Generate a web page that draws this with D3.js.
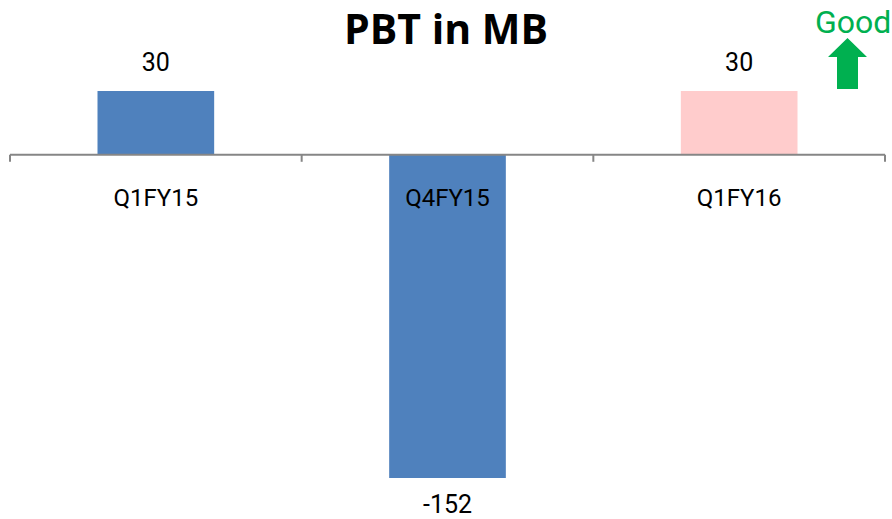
<!DOCTYPE html>
<html>
<head>
<meta charset="utf-8">
<script src="https://cdn.jsdelivr.net/npm/d3@7"></script>
<style>
  body { margin: 0; background: #ffffff; }
  svg { display: block; }
</style>
</head>
<body>
<svg id="chart"></svg>
<script>
// chart data
const categories = ["Q1FY15", "Q4FY15", "Q1FY16"];
const values = [30, -152, 30];
const barColors = ["#4f81bd", "#4f81bd", "#ffcccc"];
const title = "PBT in MB";
const noteText = "Good";

const width = 892;
const height = 519;

const svg = d3.select("#chart")
  .attr("width", width)
  .attr("height", height);

// x: one band per category, axis runs the full width
const x = d3.scaleBand()
  .domain(categories)
  .range([10, 885])
  .paddingInner(0.6)
  .paddingOuter(0.3);

// y: value range mapped so bars fill the plot
const y = d3.scaleLinear()
  .domain([d3.min(values), d3.max(values)])
  .range([478, 91]);

// bars
svg.append("g")
  .selectAll("rect")
  .data(values)
  .join("rect")
  .attr("x", (d, i) => x(categories[i]))
  .attr("width", x.bandwidth())
  .attr("y", d => y(Math.max(0, d)))
  .attr("height", d => Math.abs(y(d) - y(0)))
  .attr("fill", (d, i) => barColors[i]);

// category axis at zero, ticks between categories
const axis = svg.append("g").attr("transform", "translate(0," + y(0) + ")");
axis.append("line")
  .attr("x1", x.range()[0])
  .attr("x2", x.range()[1])
  .attr("stroke", "#868686")
  .attr("stroke-width", 2);
const step = x.step();
const bounds = d3.range(categories.length + 1).map(i => x.range()[0] + i * step);
axis.selectAll("line.tick")
  .data(bounds)
  .join("line")
  .attr("class", "tick")
  .attr("x1", d => d)
  .attr("x2", d => d)
  .attr("y1", 0)
  .attr("y2", 7)
  .attr("stroke", "#868686")
  .attr("stroke-width", 2);

axis.selectAll("text")
  .data(categories)
  .join("text")
  .attr("x", d => x(d) + x.bandwidth() / 2)
  .attr("y", 51)
  .attr("text-anchor", "middle")
  .attr("font-family", "Roboto, sans-serif")
  .attr("font-size", 24)
  .attr("fill", "#000")
  .text(d => d);

// value labels
svg.append("g")
  .selectAll("text")
  .data(values)
  .join("text")
  .attr("x", (d, i) => x(categories[i]) + x.bandwidth() / 2)
  .attr("y", d => d >= 0 ? y(d) - 20 : y(d) + 35)
  .attr("text-anchor", "middle")
  .attr("font-family", "Roboto, sans-serif")
  .attr("font-size", 25)
  .attr("fill", "#000")
  .text(d => d);

// title
svg.append("text")
  .attr("x", 446)
  .attr("y", 44)
  .attr("text-anchor", "middle")
  .attr("font-family", "'Open Sans', sans-serif")
  .attr("font-weight", 700)
  .attr("font-size", 41)
  .attr("fill", "#000")
  .text(title);

// "Good" note with up arrow
svg.append("text")
  .attr("x", 815)
  .attr("y", 33)
  .attr("font-family", "Roboto, sans-serif")
  .attr("font-size", 32)
  .attr("fill", "#00b050")
  .text(noteText);

svg.append("path")
  .attr("d", d3.line()([
    [847.5, 38], [867, 57], [858, 57], [858, 89],
    [837, 89], [837, 57], [828, 57]
  ]) + "Z")
  .attr("fill", "#00b050");
</script>
</body>
</html>
